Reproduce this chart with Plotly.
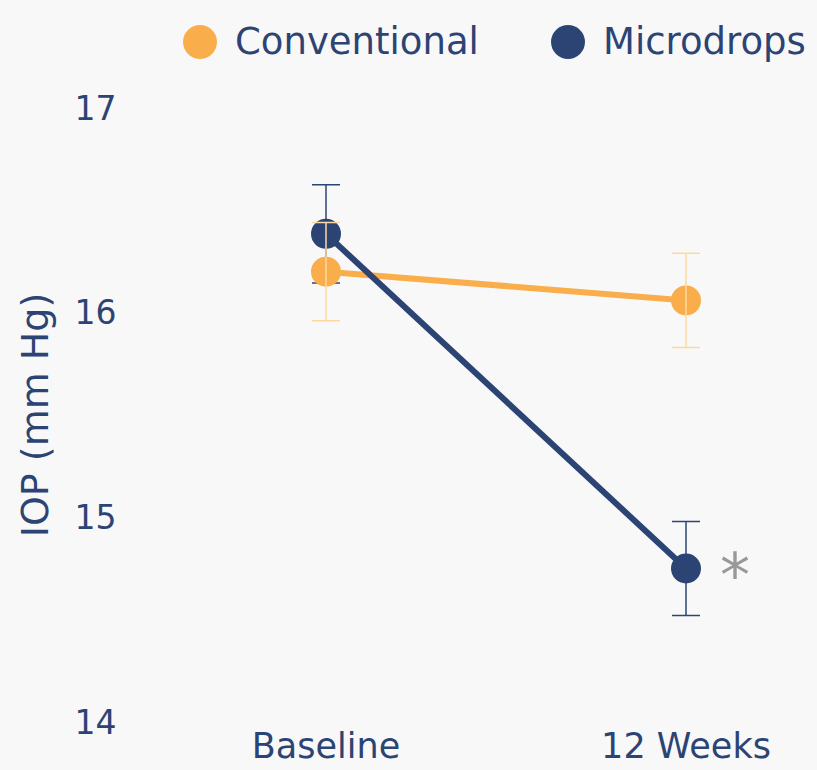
import plotly.graph_objects as go

categories = ["Baseline", "12 Weeks"]
x_pos = [0, 1]
conventional = [16.20, 16.06]
conventional_err = [0.24, 0.23]
microdrops = [16.385, 14.75]
microdrops_err = [0.24, 0.23]
y_ticks = [14, 15, 16, 17]
series_names = ["Conventional", "Microdrops"]

ORANGE = "#f9ae4b"
ORANGE_ERR = "#fdd9a0"
BLUE = "#2c4474"
TEXT = "#2c4474"
BG = "#f8f8f8"
FONT = "DejaVu Sans"

W, H = 817, 770
ML, MR, MT, MB = 128, 23, 108, 48
PW, PH = W - ML - MR, H - MT - MB

fig = go.Figure()
# blue error bars at the bottom
fig.add_trace(go.Scatter(x=x_pos, y=microdrops, mode="markers",
                         marker=dict(size=1, opacity=0),
                         error_y=dict(type="data", array=microdrops_err, color=BLUE, thickness=1.5, width=14),
                         showlegend=False, hoverinfo="skip"))
fig.add_trace(go.Scatter(x=x_pos, y=conventional, mode="lines+markers", name=series_names[0],
                         line=dict(color=ORANGE, width=6),
                         marker=dict(color=ORANGE, size=30), showlegend=False))
fig.add_trace(go.Scatter(x=x_pos, y=microdrops, mode="lines+markers", name=series_names[1],
                         line=dict(color=BLUE, width=6),
                         marker=dict(color=BLUE, size=30), showlegend=False))
fig.add_trace(go.Scatter(x=x_pos, y=conventional, mode="markers",
                         marker=dict(size=1, opacity=0),
                         error_y=dict(type="data", array=conventional_err, color=ORANGE_ERR, thickness=1.5, width=14),
                         showlegend=False, hoverinfo="skip"))

# legend drawn manually
legend_items = [(series_names[0], ORANGE, 200), (series_names[1], BLUE, 568)]
LEG_Y = 42
shapes = []
annotations = []
for name, col, px in legend_items:
    shapes.append(dict(type="circle", xref="paper", yref="paper", xsizemode="pixel", ysizemode="pixel",
                       xanchor=(px - ML) / PW, yanchor=(H - LEG_Y - MB) / PH,
                       x0=-17, x1=17, y0=-17, y1=17, fillcolor=col, line=dict(width=0)))
    annotations.append(dict(text=name, xref="paper", yref="paper", x=(px + 33 - ML) / PW,
                            y=(H - LEG_Y - MB) / PH, xanchor="left", yanchor="middle", showarrow=False,
                            font=dict(size=37, color=TEXT, family=FONT)))

annotations.append(dict(text="*", x=x_pos[1], y=microdrops[1], xref="x", yref="y", xshift=49, yshift=-6,
                        showarrow=False, font=dict(size=60, color="#999999", family=FONT)))

fig.update_layout(
    width=W, height=H,
    paper_bgcolor=BG, plot_bgcolor=BG,
    margin=dict(l=ML, r=MR, t=MT, b=MB),
    font=dict(family=FONT, color=TEXT, size=34),
    shapes=shapes, annotations=annotations,
    showlegend=False,
    xaxis=dict(range=[-0.55, 1.3], tickvals=x_pos, ticktext=categories, showgrid=False, zeroline=False,
               showline=False, ticks="", tickfont=dict(size=35), automargin=False),
    yaxis=dict(range=[14, 17], tickvals=y_ticks, showgrid=False, zeroline=False, showline=False,
               ticks="outside", ticklen=4, tickcolor=BG, tickfont=dict(size=33), automargin=False,
               title=dict(text="IOP (mm Hg)", font=dict(size=38), standoff=14)),
)

fig.write_html("out.html", config={"displayModeBar": False},
               post_script="document.body.style.margin='0';document.body.style.background='#f8f8f8';document.body.style.overflow='hidden';")
